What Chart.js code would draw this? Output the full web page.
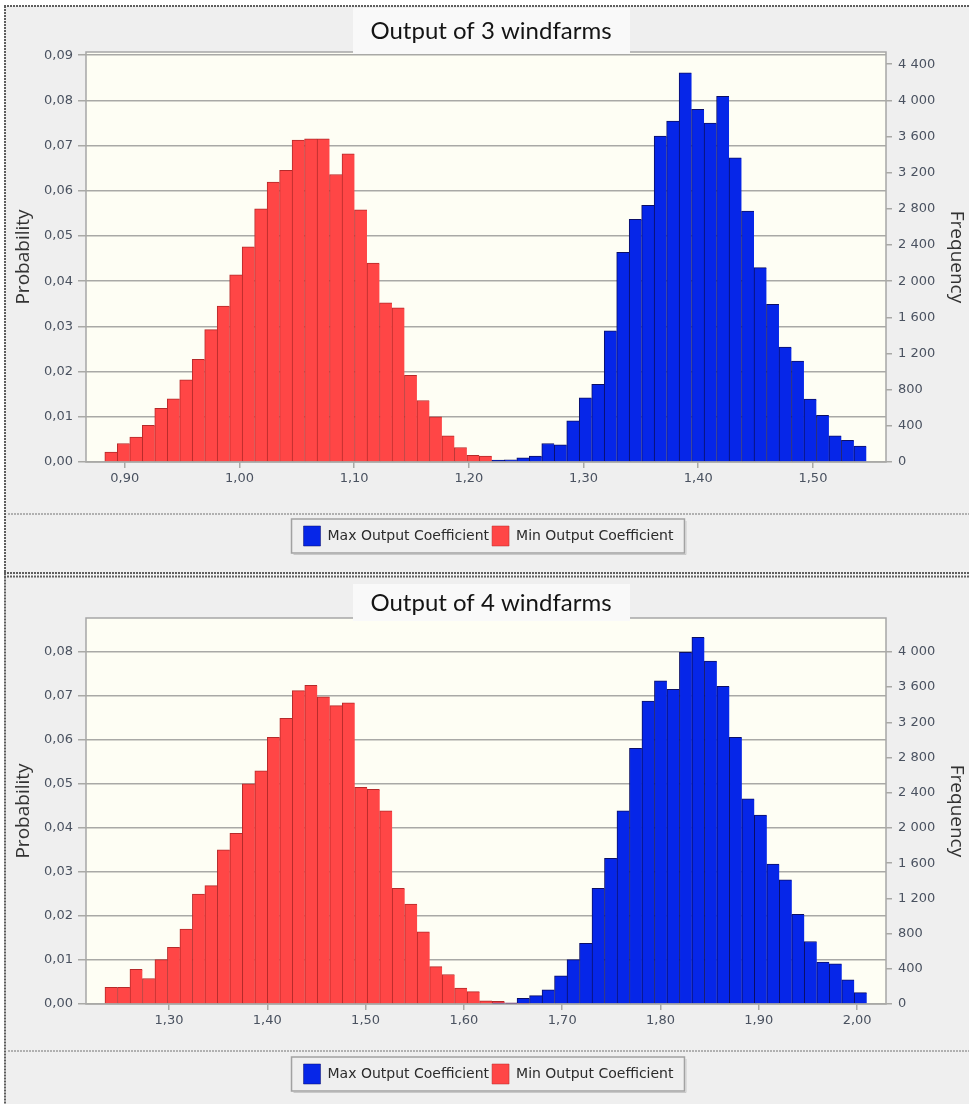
<!DOCTYPE html>
<html>
<head>
<meta charset="utf-8">
<title>Output of windfarms</title>
<script src="https://cdn.jsdelivr.net/npm/chart.js@4.4.1/dist/chart.umd.min.js"></script>
<style>
  html, body { margin: 0; padding: 0; background: #ffffff; }
  canvas { display: block; }
</style>
</head>
<body>
<canvas id="chart3" width="969" height="575"></canvas>
<canvas id="chart4" width="969" height="529"></canvas>
<script>
// frequency axis = probability * number of samples
const samples = 50000;

// ---- Output of 3 windfarms ----
const binStart3 = 0.8826;
const binWidth3 = 0.010885;
const minFirstBin3 = 0;
const minCoef3 = [0.0022, 0.0041, 0.0055, 0.0081, 0.0119, 0.0140, 0.0182, 0.0227, 0.0293, 0.0345,
                  0.0414, 0.0476, 0.0560, 0.0619, 0.0645, 0.0712, 0.0715, 0.0715, 0.0636, 0.0682,
                  0.0558, 0.0440, 0.0352, 0.0341, 0.0192, 0.0136, 0.0100, 0.0058, 0.0032, 0.0015,
                  0.0013];
const maxFirstBin3 = 31;
const maxCoef3 = [0.0004, 0.0005, 0.0009, 0.0013, 0.0041, 0.0038, 0.0091, 0.0142, 0.0172, 0.0290,
                  0.0464, 0.0537, 0.0568, 0.0721, 0.0754, 0.0861, 0.0780, 0.0750, 0.0809, 0.0673,
                  0.0555, 0.0430, 0.0349, 0.0254, 0.0223, 0.0139, 0.0103, 0.0058, 0.0048, 0.0035];
const xRange3 = [0.8662, 1.5637];
const xTicks3 = [0.9, 1.0, 1.1, 1.2, 1.3, 1.4, 1.5];
const probMax3 = 0.0907;
const probTicks3 = [0, 0.01, 0.02, 0.03, 0.04, 0.05, 0.06, 0.07, 0.08, 0.09];
const freqTicks3 = [0, 400, 800, 1200, 1600, 2000, 2400, 2800, 3200, 3600, 4000, 4400];

// ---- Output of 4 windfarms ----
const binStart4 = 1.2349;
const binWidth4 = 0.012703;
const minFirstBin4 = 0;
const minCoef4 = [0.0038, 0.0038, 0.0079, 0.0058, 0.0101, 0.0129, 0.0170, 0.0250, 0.0269, 0.0350,
                  0.0388, 0.0500, 0.0530, 0.0606, 0.0649, 0.0712, 0.0724, 0.0698, 0.0678, 0.0684,
                  0.0492, 0.0488, 0.0439, 0.0263, 0.0227, 0.0164, 0.0085, 0.0067, 0.0036, 0.0028,
                  0.0007, 0.0006, 0.0002, 0.0002];
const maxFirstBin4 = 31;
const maxCoef4 = [0.0002, 0.0002, 0.0013, 0.0019, 0.0032, 0.0064, 0.0101, 0.0138, 0.0263, 0.0331,
                  0.0439, 0.0581, 0.0688, 0.0734, 0.0715, 0.0799, 0.0833, 0.0779, 0.0722, 0.0606,
                  0.0466, 0.0429, 0.0318, 0.0282, 0.0204, 0.0142, 0.0095, 0.0091, 0.0055, 0.0026];
const xRange4 = [1.2156, 2.0294];
const xTicks4 = [1.3, 1.4, 1.5, 1.6, 1.7, 1.8, 1.9, 2.0];
const probMax4 = 0.0877;
const probTicks4 = [0, 0.01, 0.02, 0.03, 0.04, 0.05, 0.06, 0.07, 0.08];
const freqTicks4 = [0, 400, 800, 1200, 1600, 2000, 2400, 2800, 3200, 3600, 4000];

const gridColor = "#a9a9a6";
const tickColor = "#4a5260";
const tickFont = { family: "DejaVu Sans", size: 13 };

function binPoints(start, width, firstBin, values) {
    return values.map((v, i) => ({ x: start + (firstBin + i + 0.5) * width, y: v }));
}

function decimalComma(value) {
    return Number(value).toFixed(2).replace(".", ",");
}

function spaceThousands(value) {
    return String(Math.round(value)).replace(/\B(?=(\d{3})+(?!\d))/g, " ");
}

// panel background, plot frame, title box, separator and legend frame
function panelPlugin(p) {
    return {
        id: "panel",
        afterLayout(chart) {
            chart.titleBlock.left += 6.5;
            chart.titleBlock.right += 6.5;
            chart.legend.left += 4;
            chart.legend.right += 4;
        },
        beforeDraw(chart) {
            const ctx = chart.ctx, w = chart.width, h = chart.height, a = chart.chartArea;
            ctx.save();
            ctx.fillStyle = "#ffffff";
            ctx.fillRect(0, 0, w, h);
            ctx.fillStyle = "#efefef";
            ctx.fillRect(4, p.panelTop, w - 4, h - p.panelTop);

            // dotted outer border
            ctx.strokeStyle = "#5e5e5e";
            ctx.lineWidth = 2;
            ctx.setLineDash([2, 1]);
            ctx.beginPath();
            ctx.moveTo(4, p.panelTop);
            ctx.lineTo(w, p.panelTop);
            ctx.moveTo(5, p.panelTop);
            ctx.lineTo(5, h);
            if (p.bottomLine) {
                ctx.moveTo(4, p.bottomLine);
                ctx.lineTo(w, p.bottomLine);
            }
            ctx.stroke();

            // separator above legend
            ctx.strokeStyle = "#9c9c9c";
            ctx.lineWidth = 1.5;
            ctx.beginPath();
            ctx.moveTo(8, p.sepY);
            ctx.lineTo(w, p.sepY);
            ctx.stroke();
            ctx.setLineDash([]);

            // plot area
            ctx.fillStyle = "#fefef4";
            ctx.fillRect(a.left, a.top, a.width, a.height);
            ctx.strokeStyle = "#a6a6a6";
            ctx.lineWidth = 1.5;
            ctx.strokeRect(a.left, a.top, a.width, a.height);

            // title box
            ctx.fillStyle = "#f9f9f9";
            ctx.fillRect(p.titleBox[0], p.titleBox[1], p.titleBox[2] - p.titleBox[0], p.titleBox[3] - p.titleBox[1]);
            ctx.restore();
        },
        afterDraw(chart) {
            const hb = chart.legend.legendHitBoxes;
            if (!hb || !hb.length) return;
            const ctx = chart.ctx;
            const last = hb[hb.length - 1];
            const l = hb[0].left - 12, r = last.left + last.width + 11;
            const t = hb[0].top - 7, b = hb[0].top + hb[0].height + 7;
            ctx.save();
            ctx.strokeStyle = "#a2a2a2";
            ctx.lineWidth = 1.5;
            ctx.strokeRect(l, t, r - l, b - t);
            ctx.strokeStyle = "#c8c8c8";
            ctx.lineWidth = 1;
            ctx.beginPath();
            ctx.moveTo(l + 2, b + 1.5);
            ctx.lineTo(r + 1.5, b + 1.5);
            ctx.lineTo(r + 1.5, t + 2);
            ctx.stroke();
            ctx.restore();
        }
    };
}

function histogram(canvasId, s) {
    const ctx = document.getElementById(canvasId).getContext("2d");

    const barStyle = {
        grouped: false,
        barPercentage: 1,
        categoryPercentage: 1,
        borderWidth: { top: 1, left: 1, right: 0, bottom: 0 }
    };

    const data = {
        datasets: [
            Object.assign({
                label: "Max Output Coefficient",
                data: binPoints(s.binStart, s.binWidth, s.maxFirstBin, s.maxCoef),
                backgroundColor: "#0626e8",
                borderColor: "#0b0f66"
            }, barStyle),
            Object.assign({
                label: "Min Output Coefficient",
                data: binPoints(s.binStart, s.binWidth, s.minFirstBin, s.minCoef),
                backgroundColor: "#ff4646",
                borderColor: "#b52a2a"
            }, barStyle)
        ]
    };

    const config = {
        type: "bar",
        data: data,
        plugins: [panelPlugin(s.panel)],
        options: {
            responsive: false,
            animation: false,
            layout: { padding: { left: 0, right: 0, top: 0, bottom: s.padBottom } },
            plugins: {
                tooltip: { enabled: false },
                title: {
                    display: true,
                    text: s.title,
                    font: { family: "Lato", size: 24, weight: "normal" },
                    color: "#141414",
                    padding: s.titlePad
                },
                legend: {
                    position: "bottom",
                    labels: {
                        boxWidth: 17,
                        boxHeight: 20,
                        padding: 3,
                        font: { family: "DejaVu Sans", size: 14 },
                        color: "#2b2b2b"
                    }
                }
            },
            scales: {
                x: {
                    type: "linear",
                    min: s.xRange[0],
                    max: s.xRange[1],
                    bounds: "data",
                    offset: false,
                    grid: { drawOnChartArea: false, drawTicks: true, tickLength: 6, color: gridColor, lineWidth: 1.5, offset: false },
                    border: { display: false },
                    ticks: { autoSkip: false, maxRotation: 0, padding: 3, font: tickFont, color: tickColor, callback: decimalComma },
                    afterBuildTicks: scale => { scale.ticks = s.xTicks.map(v => ({ value: v })); },
                    afterFit: scale => { scale.height = s.xAxisHeight; }
                },
                y: {
                    position: "left",
                    min: 0,
                    max: s.probMax,
                    bounds: "data",
                    grid: { color: gridColor, lineWidth: 1.5, tickLength: 8 },
                    border: { display: false },
                    ticks: { autoSkip: false, padding: 5, font: tickFont, color: tickColor, callback: decimalComma },
                    title: { display: true, text: "Probability", font: { family: "Open Sans", size: 19 }, color: "#333333", padding: { top: 12.6, bottom: 0 } },
                    afterBuildTicks: scale => { scale.ticks = s.probTicks.map(v => ({ value: v })); },
                    afterFit: scale => { scale.width = 86; }
                },
                y1: {
                    position: "right",
                    min: 0,
                    max: s.probMax * samples,
                    bounds: "data",
                    grid: { drawOnChartArea: false, tickLength: 6, color: gridColor, lineWidth: 1.5 },
                    border: { display: false },
                    ticks: { autoSkip: false, padding: 6, font: tickFont, color: tickColor, callback: spaceThousands },
                    title: { display: true, text: "Frequency", font: { family: "Open Sans", size: 19 }, color: "#333333", padding: { top: 1.6, bottom: 0 } },
                    afterBuildTicks: scale => { scale.ticks = s.freqTicks.map(v => ({ value: v })); },
                    afterFit: scale => { scale.width = 83; }
                }
            }
        }
    };

    return new Chart(ctx, config);
}

histogram("chart3", {
    title: "Output of 3 windfarms",
    binStart: binStart3, binWidth: binWidth3,
    minFirstBin: minFirstBin3, minCoef: minCoef3,
    maxFirstBin: maxFirstBin3, maxCoef: maxCoef3,
    xRange: xRange3, xTicks: xTicks3,
    probMax: probMax3, probTicks: probTicks3, freqTicks: freqTicks3,
    titlePad: { top: 16.6, bottom: 6.6 },
    xAxisHeight: 61,
    padBottom: 19,
    panel: { panelTop: 6, bottomLine: 573, sepY: 514, titleBox: [353, 8, 630, 54] }
});

histogram("chart4", {
    title: "Output of 4 windfarms",
    binStart: binStart4, binWidth: binWidth4,
    minFirstBin: minFirstBin4, minCoef: minCoef4,
    maxFirstBin: maxFirstBin4, maxCoef: maxCoef4,
    xRange: xRange4, xTicks: xTicks4,
    probMax: probMax4, probTicks: probTicks4, freqTicks: freqTicks4,
    titlePad: { top: 13.6, bottom: 0.6 },
    xAxisHeight: 57,
    padBottom: 10,
    panel: { panelTop: 1.5, bottomLine: 0, sepY: 476, titleBox: [353, 9, 630, 46] }
});
</script>
</body>
</html>
